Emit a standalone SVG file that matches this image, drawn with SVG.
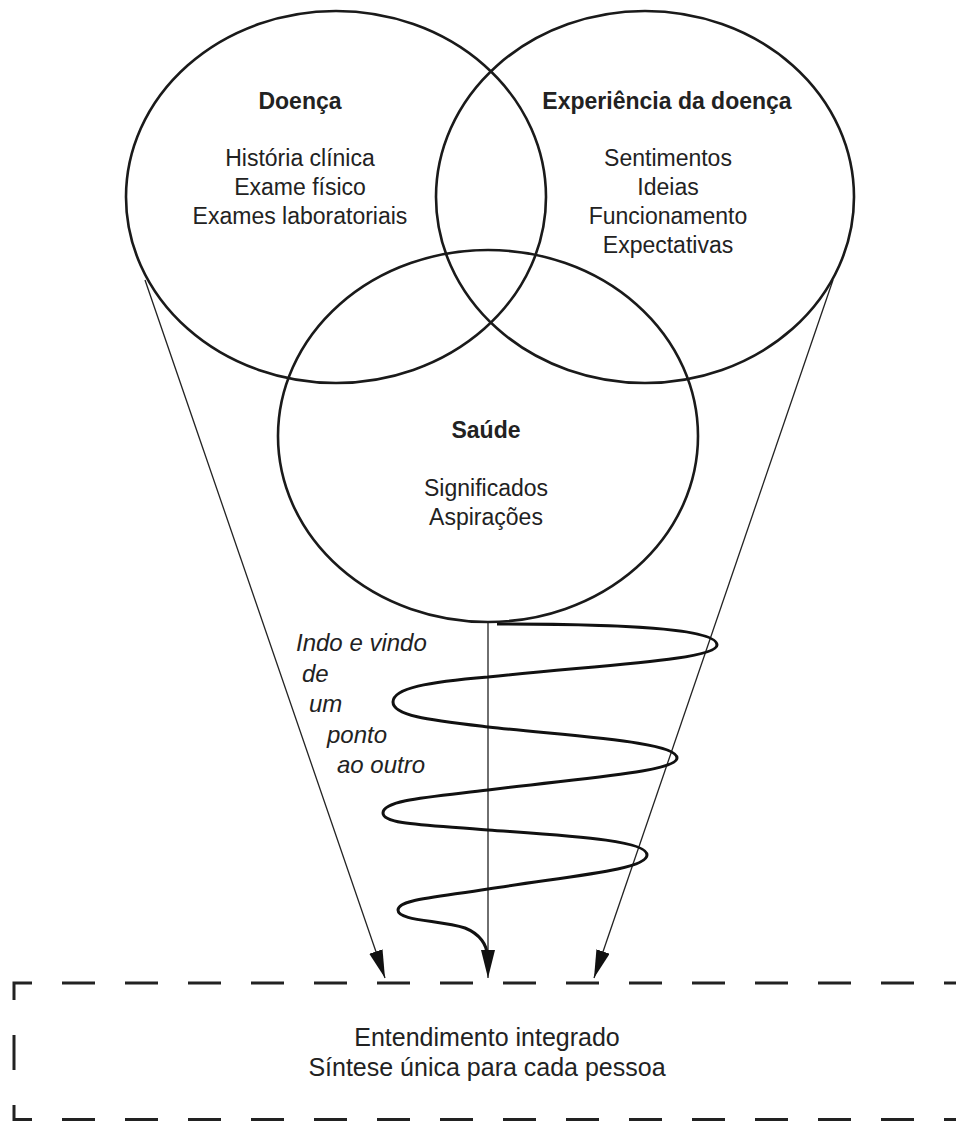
<svg xmlns="http://www.w3.org/2000/svg" width="956" height="1122" viewBox="0 0 956 1122">
<style>
.c{fill:none;stroke:#1a1a1a;stroke-width:2.6}
.t{font-family:"Liberation Sans",Arial,Helvetica,sans-serif;font-size:23px;fill:#222;text-anchor:middle}
.b{font-weight:bold}
.i{font-style:italic;text-anchor:start;font-size:24px}
.ln{fill:none;stroke:#222;stroke-width:1.3}
.sp{fill:none;stroke:#111;stroke-width:3}
.d{fill:none;stroke:#222;stroke-width:3}
</style>
<defs>
<marker id="ah" markerUnits="userSpaceOnUse" markerWidth="30" markerHeight="16" refX="28" refY="7" orient="auto">
<path d="M0,0 L28,7 L0,14 z" fill="#111"/>
</marker>
</defs>
<rect width="956" height="1122" fill="#fff"/>
<g id="connectors">
<line class="ln" x1="145" y1="280" x2="385" y2="978" marker-end="url(#ah)"/>
<line class="ln" x1="833" y1="280" x2="594" y2="978" marker-end="url(#ah)"/>
<line class="ln" x1="488" y1="623" x2="488" y2="978" marker-end="url(#ah)"/>
<path class="sp" d="M497,624 C620,624 717,628 717,645 C717,660 600,665 488,677 C428,682 393,688 393,702 C393,716 430,720 488,727 C580,737 677,742 677,758 C677,772 580,778 488,790 C430,797 383,800 383,813 C383,825 430,825 488,830 C570,836 647,840 647,855 C647,870 570,876 488,889 C430,898 398,900 398,910 C398,921 440,920 465,928 C480,934 487,945 487,955"/>
</g>
<g id="doenca">
<ellipse class="c" cx="336" cy="197" rx="210" ry="186"/>
<text class="t b" x="300" y="109">Doença</text>
<text class="t" x="300" y="166">História clínica</text>
<text class="t" x="300" y="195">Exame físico</text>
<text class="t" x="300" y="224">Exames laboratoriais</text>
</g>
<g id="experiencia">
<ellipse class="c" cx="645" cy="197" rx="209" ry="186"/>
<text class="t b" x="667" y="109">Experiência da doença</text>
<text class="t" x="668" y="166">Sentimentos</text>
<text class="t" x="668" y="195">Ideias</text>
<text class="t" x="668" y="224">Funcionamento</text>
<text class="t" x="668" y="253">Expectativas</text>
</g>
<g id="saude">
<ellipse class="c" cx="488" cy="436" rx="210" ry="186"/>
<text class="t b" x="486" y="438">Saúde</text>
<text class="t" x="486" y="496">Significados</text>
<text class="t" x="486" y="525">Aspirações</text>
</g>
<g id="label-indo">
<text class="t i" x="296" y="651">Indo e vindo</text>
<text class="t i" x="302" y="682">de</text>
<text class="t i" x="309" y="712">um</text>
<text class="t i" x="327" y="743">ponto</text>
<text class="t i" x="337" y="773">ao outro</text>
</g>
<g id="entendimento">
<path class="d" d="M14,1000 L14,983 L32,983 M14,1035 L14,1070 M14,1105 L14,1119.5 L32,1119.5"/>
<line class="d" x1="62" y1="983" x2="960" y2="983" stroke-dasharray="33 30"/>
<line class="d" x1="62" y1="1119.5" x2="960" y2="1119.5" stroke-dasharray="33 30"/>
<text class="t" style="font-size:25px" x="487" y="1046">Entendimento integrado</text>
<text class="t" style="font-size:25px" x="487" y="1076">Síntese única para cada pessoa</text>
</g>
</svg>
